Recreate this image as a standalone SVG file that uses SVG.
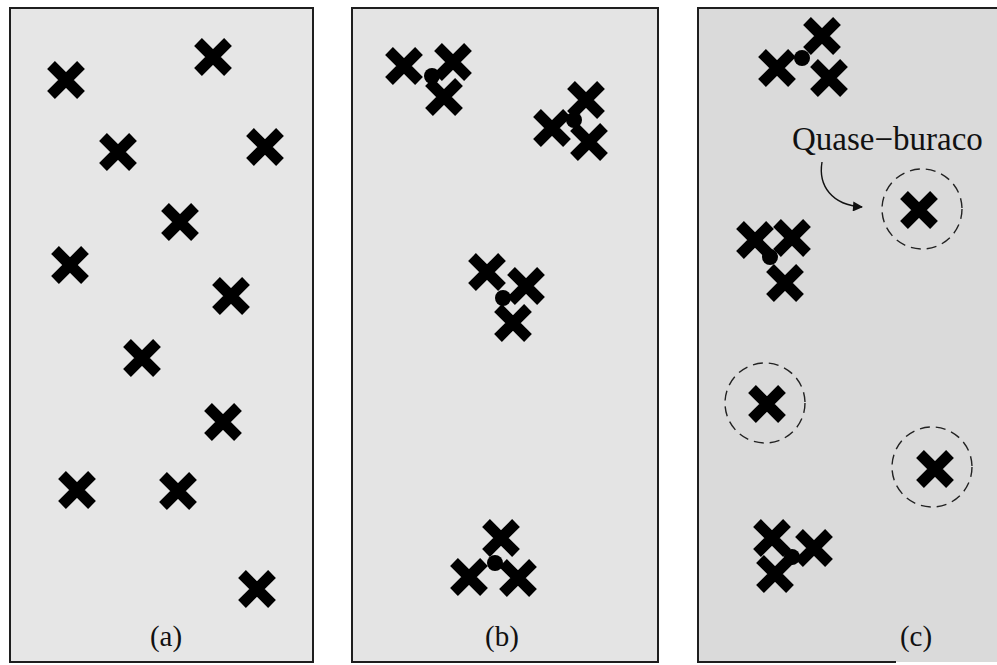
<svg xmlns="http://www.w3.org/2000/svg" width="997" height="665" viewBox="0 0 997 665">
<style>
.panel{stroke:#1e1e1e;stroke-width:2}
.lbl{font-family:"Liberation Serif","Times New Roman",serif;font-size:29px;fill:#111;text-anchor:middle}
.note{font-family:"Liberation Serif","Times New Roman",serif;font-size:33px;fill:#111}
.hole{fill:none;stroke:#222;stroke-width:1.4;stroke-dasharray:10 6}
.dot{fill:#000}
</style>
<defs>
<g id="x">
<path d="M-15,-15 L15,15 M15,-15 L-15,15" stroke="#000" stroke-width="11" stroke-linecap="butt" fill="none"/>
</g>
<marker id="ah" viewBox="0 0 10 10" refX="9" refY="5" markerWidth="16" markerHeight="10" markerUnits="userSpaceOnUse" orient="auto">
<path d="M0,0 L10,5 L0,10 Z" fill="#111"/>
</marker>
</defs>
<rect width="997" height="665" fill="#ffffff"/>

<g id="panel-a">
<rect class="panel" x="10" y="8" width="303" height="654" fill="#e6e6e6"/>
<use href="#x" x="66" y="80"/>
<use href="#x" x="213" y="57"/>
<use href="#x" x="118" y="152"/>
<use href="#x" x="265" y="147"/>
<use href="#x" x="180" y="222"/>
<use href="#x" x="70" y="265"/>
<use href="#x" x="231" y="296"/>
<use href="#x" x="142" y="358"/>
<use href="#x" x="223" y="422"/>
<use href="#x" x="77" y="490"/>
<use href="#x" x="178" y="491"/>
<use href="#x" x="257" y="589"/>
<text class="lbl" x="166" y="646">(a)</text>
</g>

<g id="panel-b">
<rect class="panel" x="352" y="8" width="306" height="654" fill="#e4e4e4"/>
<g id="b-cluster1">
<use href="#x" x="404" y="66"/>
<use href="#x" x="453" y="62"/>
<use href="#x" x="444" y="97"/>
<circle class="dot" cx="432" cy="76" r="8"/>
</g>
<g id="b-cluster2">
<use href="#x" x="586" y="100"/>
<use href="#x" x="552" y="128"/>
<use href="#x" x="589" y="142"/>
<circle class="dot" cx="574" cy="120" r="8"/>
</g>
<g id="b-cluster3">
<use href="#x" x="487" y="272"/>
<use href="#x" x="526" y="286"/>
<use href="#x" x="513" y="323"/>
<circle class="dot" cx="503" cy="298" r="8"/>
</g>
<g id="b-cluster4">
<use href="#x" x="501" y="538"/>
<use href="#x" x="469" y="577"/>
<use href="#x" x="518" y="578"/>
<circle class="dot" cx="495" cy="563" r="8"/>
</g>
<text class="lbl" x="502" y="646">(b)</text>
</g>

<g id="panel-c">
<rect x="698" y="8" width="300" height="654" fill="#dadada"/>
<path class="panel" d="M998,8 H698 V662 H896" fill="none"/>
<g id="c-cluster1">
<use href="#x" x="822" y="36"/>
<use href="#x" x="777" y="68"/>
<use href="#x" x="829" y="78"/>
<circle class="dot" cx="802" cy="58" r="8"/>
</g>
<g id="c-hole1">
<circle class="hole" cx="922" cy="209" r="40"/>
<use href="#x" x="919" y="210"/>
</g>
<g id="c-cluster2">
<use href="#x" x="755" y="240"/>
<use href="#x" x="792" y="238"/>
<use href="#x" x="785" y="283"/>
<circle class="dot" cx="770" cy="257" r="8"/>
</g>
<g id="c-hole2">
<circle class="hole" cx="765" cy="403" r="40"/>
<use href="#x" x="767" y="404"/>
</g>
<g id="c-hole3">
<circle class="hole" cx="932" cy="467" r="40"/>
<use href="#x" x="935" y="469"/>
</g>
<g id="c-cluster3">
<use href="#x" x="772" y="538"/>
<use href="#x" x="814" y="548"/>
<use href="#x" x="775" y="574"/>
<circle class="dot" cx="792" cy="557" r="8"/>
</g>
<text class="note" x="792" y="150">Quase−buraco</text>
<text class="lbl" x="916" y="646">(c)</text>
</g>

<g id="connectors">
<path d="M822,162 C818,186 832,205 862,207" fill="none" stroke="#111" stroke-width="1.4" marker-end="url(#ah)"/>
</g>
</svg>
